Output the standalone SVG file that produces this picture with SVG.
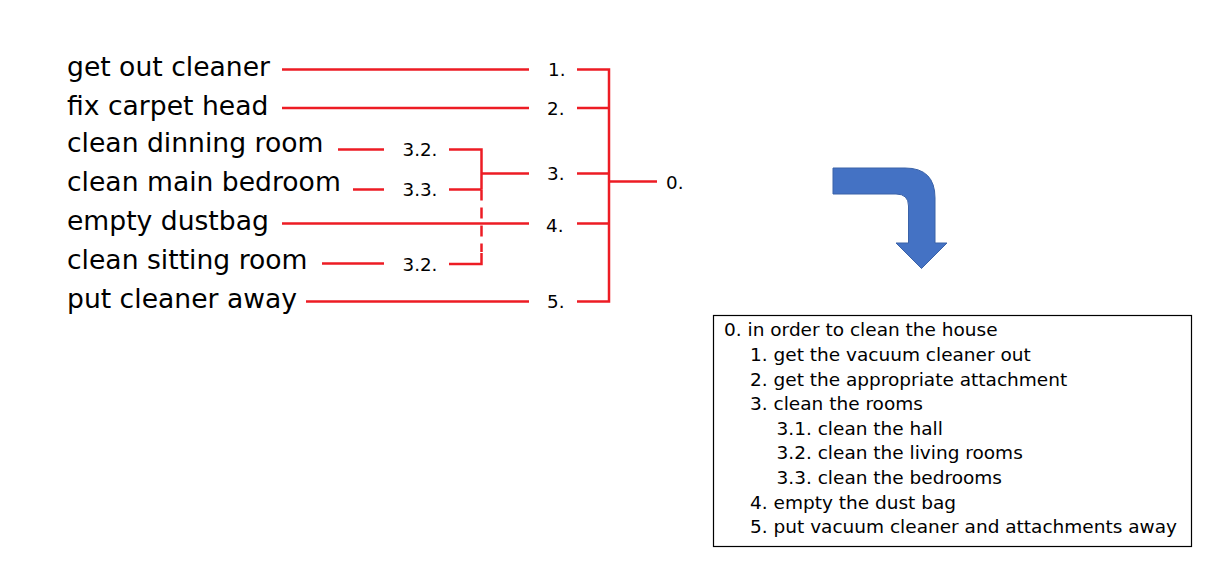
<svg xmlns="http://www.w3.org/2000/svg" width="1217" height="566" viewBox="0 0 1217 566">
<style>
.big{font-family:"DejaVu Sans","Liberation Sans",sans-serif;font-size:26.6px;fill:#000}
.lab{font-family:"DejaVu Sans","Liberation Sans",sans-serif;font-size:18.3px;fill:#000}
.box{font-family:"DejaVu Sans","Liberation Sans",sans-serif;font-size:18.5px;fill:#000}
.c{fill:none;stroke:#ED1C24;stroke-width:2.5;stroke-linejoin:miter;stroke-linecap:butt}
</style>
<rect width="1217" height="566" fill="#fff"/>
<g id="connectors">
<path class="c" d="M282,69.5H529M282,108H529M338,149.5H384M353,189.5H384M282,223.5H529M322,263.5H384M306,301.5H529"/>
<path class="c" d="M449,149.5H481.5V189.5M449,189.5H481.5M481.5,173.5H529"/>
<path class="c" d="M481.5,189.5V252" stroke-dasharray="11,7"/>
<path class="c" d="M481.5,253V264H449"/>
<path class="c" d="M577,69.5H609V301.5H577M577,108H609M577,173.5H609M577,223.5H609M609,181.5H657"/>
</g>
<g id="n-get-out"><text class="big" x="67" y="76">get out cleaner</text></g>
<g id="n-fix"><text class="big" x="67" y="115">fix carpet head</text></g>
<g id="n-dinning"><text class="big" x="67" y="152">clean dinning room</text></g>
<g id="n-main-bed"><text class="big" x="67" y="191">clean main bedroom</text></g>
<g id="n-dustbag"><text class="big" x="67" y="230">empty dustbag</text></g>
<g id="n-sitting"><text class="big" x="67" y="269">clean sitting room</text></g>
<g id="n-put-away"><text class="big" x="67" y="308">put cleaner away</text></g>
<g id="l1"><text class="lab" x="548" y="76">1.</text></g>
<g id="l2"><text class="lab" x="547" y="115">2.</text></g>
<g id="l32a"><text class="lab" x="402.5" y="156">3.2.</text></g>
<g id="l3"><text class="lab" x="547" y="180">3.</text></g>
<g id="l33"><text class="lab" x="402.5" y="196">3.3.</text></g>
<g id="l4"><text class="lab" x="546" y="231.5">4.</text></g>
<g id="l32b"><text class="lab" x="402.5" y="271">3.2.</text></g>
<g id="l5"><text class="lab" x="547" y="308">5.</text></g>
<g id="l0"><text class="lab" x="666" y="188.5">0.</text></g>
<g id="arrow">
<path d="M833,168H905Q935,168 935,198V243H947L921.5,268.5L896,243H908.5V206Q908.5,194 896,194H833Z" fill="#4472C4" stroke="#3A62A8" stroke-width="1"/>
</g>
<g id="outline">
<rect x="713.5" y="315.5" width="478" height="231" fill="#fff" stroke="#000" stroke-width="1.2"/>
<text class="box" x="724" y="336">0. in order to clean the house</text>
<text class="box" x="750" y="361">1. get the vacuum cleaner out</text>
<text class="box" x="750" y="385.5">2. get the appropriate attachment</text>
<text class="box" x="750" y="410">3. clean the rooms</text>
<text class="box" x="776.5" y="435">3.1. clean the hall</text>
<text class="box" x="776.5" y="459">3.2. clean the living rooms</text>
<text class="box" x="776.5" y="484">3.3. clean the bedrooms</text>
<text class="box" x="750" y="508.5">4. empty the dust bag</text>
<text class="box" x="750" y="533">5. put vacuum cleaner and attachments away</text>
</g>
</svg>
